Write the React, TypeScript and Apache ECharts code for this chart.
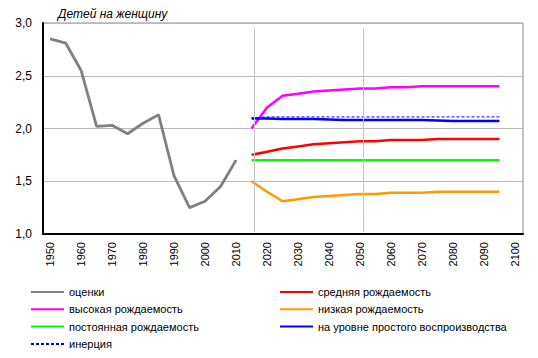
import React, { useEffect, useRef } from "react";
import * as echarts from "echarts";

const FONT = 'Arial, "Liberation Sans", sans-serif';

const yearsHist = [1950, 1955, 1960, 1965, 1970, 1975, 1980, 1985, 1990, 1995, 2000, 2005, 2010];
const estimates = [2.85, 2.81, 2.55, 2.02, 2.03, 1.95, 2.05, 2.13, 1.55, 1.25, 1.31, 1.45, 1.70];

const yearsProj = [2015, 2020, 2025, 2030, 2035, 2040, 2045, 2050, 2055, 2060, 2065, 2070, 2075, 2080, 2085, 2090, 2095];
const medium = [1.75, 1.78, 1.81, 1.83, 1.85, 1.86, 1.87, 1.88, 1.88, 1.89, 1.89, 1.89, 1.90, 1.90, 1.90, 1.90, 1.90];
const high = [2.00, 2.20, 2.31, 2.33, 2.35, 2.36, 2.37, 2.38, 2.38, 2.39, 2.39, 2.40, 2.40, 2.40, 2.40, 2.40, 2.40];
const low = [1.50, 1.40, 1.31, 1.33, 1.35, 1.36, 1.37, 1.38, 1.38, 1.39, 1.39, 1.39, 1.40, 1.40, 1.40, 1.40, 1.40];
const constant = [1.70, 1.70, 1.70, 1.70, 1.70, 1.70, 1.70, 1.70, 1.70, 1.70, 1.70, 1.70, 1.70, 1.70, 1.70, 1.70, 1.70];
const replacement = [2.095, 2.095, 2.09, 2.09, 2.09, 2.085, 2.08, 2.08, 2.08, 2.08, 2.08, 2.08, 2.075, 2.07, 2.07, 2.07, 2.07];
const inertia = [2.10, 2.11, 2.11, 2.11, 2.11, 2.11, 2.11, 2.11, 2.11, 2.11, 2.11, 2.11, 2.11, 2.11, 2.11, 2.11, 2.11];

const xTickLabels = [1950, 1960, 1970, 1980, 1990, 2000, 2010, 2020, 2030, 2040, 2050, 2060, 2070, 2080, 2090, 2100];

const names = {
  est: "оценки",
  med: "средняя рождаемость",
  high: "высокая рождаемость",
  low: "низкая рождаемость",
  con: "постоянная рождаемость",
  rep: "на уровне простого воспроизводства",
  ine: "инерция",
};

const pairs = (xs: number[], ys: number[]) => xs.map((x, i) => [x, ys[i]]);

export default function App() {
  const ref = useRef<HTMLDivElement>(null);
  useEffect(() => {
    if (!ref.current) return;
    const chart = echarts.init(ref.current, null, { renderer: "svg" });
    const line = (name: string, xs: number[], ys: number[], color: string, extra: any = {}) => ({
      name,
      type: "line",
      data: pairs(xs, ys),
      symbol: "none",
      showSymbol: false,
      smooth: false,
      lineStyle: { color, width: 2.5 },
      itemStyle: { color },
      ...extra,
    });
    const legendCommon = {
      orient: "vertical",
      top: 286,
      padding: 0,
      itemWidth: 33,
      itemHeight: 12,
      itemGap: 5.3,
      selectedMode: false,
      itemStyle: { opacity: 0 },
      textStyle: { fontSize: 11, color: "#000", fontFamily: FONT, lineHeight: 12 },
    };
    chart.setOption({
      animation: false,
      backgroundColor: "#fff",
      textStyle: { fontFamily: FONT },
      title: {
        text: "Детей на женщину",
        left: 58,
        top: 8,
        padding: 0,
        textStyle: { fontSize: 12, fontStyle: "italic", fontWeight: "normal", color: "#000", fontFamily: FONT },
      },
      grid: {
        left: 43,
        right: 15,
        top: 23,
        bottom: 124,
        show: true,
        borderColor: "#888",
        borderWidth: 1,
        containLabel: false,
        outerBoundsMode: "none",
      },
      legend: [
        { ...legendCommon, left: 30, data: [names.est, names.high, names.con, names.ine] },
        { ...legendCommon, left: 279, data: [names.med, names.low, names.rep] },
      ],
      xAxis: {
        type: "value",
        min: 1947.7,
        max: 2102.6,
        splitLine: { show: false },
        axisTick: { show: false },
        axisLine: { show: true, onZero: false, lineStyle: { color: "#000", width: 2 } },
        axisLabel: {
          customValues: xTickLabels,
          rotate: 90,
          margin: 8,
          fontSize: 11,
          color: "#000",
          fontFamily: FONT,
          formatter: (v: number) => String(Math.round(v)),
        },
      },
      yAxis: {
        type: "value",
        min: 1,
        max: 3,
        interval: 0.5,
        axisTick: { show: false },
        axisLine: { show: true, lineStyle: { color: "#000", width: 2 } },
        splitLine: { show: true, lineStyle: { color: "#b8b8b8", width: 1 } },
        axisLabel: {
          fontSize: 12,
          color: "#000",
          margin: 11,
          fontFamily: FONT,
          formatter: (v: number) => v.toFixed(1).replace(".", ","),
        },
      },
      series: [
        line(names.est, yearsHist, estimates, "#808080", {
          lineStyle: { color: "#808080", width: 2.8 },
          markLine: {
            silent: true,
            symbol: "none",
            label: { show: false },
            lineStyle: { color: "#c4c4c4", width: 1, type: "solid" },
            data: [
              [{ coord: [2015.8, 1.02] }, { coord: [2015.8, 2.95] }],
              [{ coord: [2050.9, 1.02] }, { coord: [2050.9, 2.95] }],
            ],
          },
        }),
        line(names.med, yearsProj, medium, "#ff0000"),
        line(names.high, yearsProj, high, "#ff00ff"),
        line(names.low, yearsProj, low, "#ff9900"),
        line(names.con, yearsProj, constant, "#00ff00"),
        line(names.rep, yearsProj, replacement, "#0000ff"),
        line(names.ine, yearsProj, inertia, "#0000ff", {
          lineStyle: { color: "#0000ff", width: 1, type: [3, 2] },
        }),
      ],
    });
    return () => chart.dispose();
  }, []);
  return (
    <div
      ref={ref}
      style={{ position: "fixed", left: 0, top: 0, width: 538, height: 358, background: "#fff" }}
    />
  );
}
